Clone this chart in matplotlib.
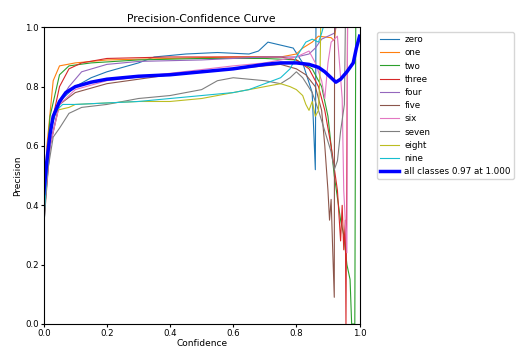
#!/usr/bin/env python3
import numpy as np
from matplotlib import pyplot as plt

################################################################################
# per-class precision-confidence curves

names = ['zero', 'one', 'two', 'three', 'four',
		'five', 'six', 'seven', 'eight', 'nine']
colors = ['#1f77b4', '#ff7f0e', '#2ca02c', '#d62728', '#9467bd',
		'#8c564b', '#e377c2', '#7f7f7f', '#bcbd22', '#17becf']

zero_x = [0, 0.01, 0.03, 0.06, 0.1, 0.15, 0.2, 0.3, 0.35, 0.45, 0.55, 0.65,
		0.68, 0.71, 0.75, 0.79, 0.82, 0.85, 0.86, 0.862, 1.0]
zero_y = [0.30, 0.55, 0.70, 0.76, 0.80, 0.83, 0.85, 0.88, 0.90, 0.91, 0.915,
		0.91, 0.92, 0.95, 0.94, 0.93, 0.88, 0.78, 0.52, 1.0, 1.0]

one_x = [0, 0.01, 0.03, 0.05, 0.1, 0.2, 0.4, 0.6, 0.75, 0.8, 0.82, 0.85,
		0.87, 0.91, 0.92, 0.925, 1.0]
one_y = [0.35, 0.60, 0.82, 0.87, 0.88, 0.89, 0.895, 0.90, 0.90, 0.91, 0.93,
		0.95, 0.97, 0.965, 0.955, 1.0, 1.0]

two_x = [0, 0.02, 0.05, 0.08, 0.15, 0.3, 0.5, 0.7, 0.8, 0.85, 0.88, 0.9,
		0.92, 0.94, 0.95, 0.96, 0.97, 0.975, 0.985, 0.988, 1.0]
two_y = [0.40, 0.70, 0.84, 0.87, 0.88, 0.89, 0.895, 0.895, 0.89, 0.86, 0.80,
		0.70, 0.50, 0.35, 0.30, 0.20, 0.15, 0.0, 0.0, 1.0, 1.0]

three_x = [0, 0.02, 0.05, 0.08, 0.12, 0.2, 0.4, 0.6, 0.75, 0.8, 0.84, 0.87,
		0.89, 0.91, 0.93, 0.94, 0.945, 0.95, 0.955, 0.957, 0.962, 1.0]
three_y = [0.35, 0.65, 0.80, 0.86, 0.88, 0.895, 0.90, 0.90, 0.90, 0.89, 0.86,
		0.80, 0.72, 0.60, 0.45, 0.28, 0.40, 0.25, 0.35, 0.0, 1.0, 1.0]

four_x = [0, 0.02, 0.05, 0.08, 0.12, 0.2, 0.3, 0.5, 0.7, 0.8, 0.84, 0.86,
		0.88, 0.9, 0.92, 0.925, 1.0]
four_y = [0.35, 0.60, 0.75, 0.80, 0.85, 0.875, 0.885, 0.89, 0.90, 0.90, 0.91,
		0.93, 0.96, 0.97, 0.98, 1.0, 1.0]

five_x = [0, 0.02, 0.05, 0.1, 0.2, 0.4, 0.6, 0.7, 0.75, 0.8, 0.83, 0.86,
		0.88, 0.89, 0.9, 0.905, 0.91, 0.915, 0.92, 0.921, 1.0]
five_y = [0.33, 0.60, 0.74, 0.78, 0.81, 0.84, 0.86, 0.87, 0.875, 0.86, 0.84,
		0.80, 0.72, 0.60, 0.45, 0.35, 0.42, 0.25, 0.09, 1.0, 1.0]

six_x = [0, 0.02, 0.05, 0.1, 0.2, 0.4, 0.6, 0.7, 0.75, 0.8, 0.84, 0.86,
		0.88, 0.89, 0.9, 0.91, 0.93, 0.945, 0.95, 0.96, 0.962, 1.0]
six_y = [0.36, 0.60, 0.74, 0.79, 0.82, 0.845, 0.87, 0.88, 0.89, 0.90, 0.92,
		0.88, 0.82, 0.76, 0.88, 0.95, 0.97, 0.76, 0.45, 0.24, 1.0, 1.0]

seven_x = [0, 0.01, 0.03, 0.05, 0.08, 0.12, 0.2, 0.3, 0.4, 0.5, 0.55, 0.6,
		0.7, 0.75, 0.78, 0.8, 0.82, 0.85, 0.87, 0.89, 0.91, 0.92, 0.93,
		0.94, 0.952, 0.955, 1.0]
seven_y = [0.32, 0.50, 0.63, 0.66, 0.71, 0.73, 0.74, 0.76, 0.77, 0.79, 0.82,
		0.83, 0.82, 0.81, 0.83, 0.85, 0.83, 0.78, 0.72, 0.65, 0.58, 0.52,
		0.55, 0.65, 0.74, 1.0, 1.0]

eight_x = [0, 0.02, 0.04, 0.08, 0.1, 0.2, 0.3, 0.4, 0.5, 0.6, 0.65, 0.7,
		0.75, 0.78, 0.8, 0.82, 0.83, 0.84, 0.85, 0.86, 0.87, 0.875, 0.877, 1.0]
eight_y = [0.38, 0.65, 0.72, 0.73, 0.74, 0.745, 0.75, 0.75, 0.76, 0.78, 0.79,
		0.80, 0.81, 0.80, 0.79, 0.77, 0.74, 0.72, 0.75, 0.70, 0.72, 0.85,
		1.0, 1.0]

nine_x = [0, 0.02, 0.04, 0.06, 0.1, 0.2, 0.3, 0.4, 0.5, 0.6, 0.65, 0.7,
		0.75, 0.78, 0.8, 0.83, 0.85, 0.87, 0.88, 0.885, 1.0]
nine_y = [0.35, 0.65, 0.72, 0.74, 0.74, 0.745, 0.75, 0.76, 0.77, 0.78, 0.79,
		0.81, 0.83, 0.86, 0.90, 0.95, 0.96, 0.95, 0.98, 1.0, 1.0]

# mean over all classes
all_x = [0, 0.01, 0.02, 0.03, 0.05, 0.07, 0.1, 0.15, 0.2, 0.3, 0.4, 0.5,
		0.6, 0.7, 0.75, 0.8, 0.84, 0.87, 0.89, 0.91, 0.925, 0.94, 0.96,
		0.98, 0.99, 1.0]
all_y = [0.44, 0.55, 0.64, 0.70, 0.75, 0.78, 0.80, 0.815, 0.825, 0.835, 0.84,
		0.85, 0.86, 0.875, 0.88, 0.88, 0.875, 0.865, 0.85, 0.83, 0.815, 0.825,
		0.85, 0.88, 0.93, 0.97]

################################################################################

if __name__ == '__main__':
	curves = [(zero_x, zero_y), (one_x, one_y), (two_x, two_y),
				(three_x, three_y), (four_x, four_y), (five_x, five_y),
				(six_x, six_y), (seven_x, seven_y), (eight_x, eight_y),
				(nine_x, nine_y)]
	plt.rcParams.update({'font.size': 6.5})
	fig = plt.figure(figsize=(5.18, 3.5), dpi=100)
	ax = fig.add_axes([0.0844, 0.0743, 0.6097, 0.8477])
	for index, (cx, cy) in enumerate(curves):
		ax.plot(cx, cy, linewidth = 0.8, color = colors[index],
					label = names[index])
	ax.plot(all_x, all_y, linewidth = 2.5, color = 'blue',
				label = 'all classes 0.97 at 1.000')
	ax.set_xlim(0, 1)
	ax.set_ylim(0, 1)
	ax.set_xlabel('Confidence', fontsize = 6.5, labelpad = 1)
	ax.set_ylabel('Precision', fontsize = 6.5, labelpad = 2)
	ax.set_title('Precision-Confidence Curve', fontsize = 7.75, pad = 4)
	ax.tick_params(labelsize = 6.2, pad = 1.5, length = 2)
	ax.legend(bbox_to_anchor = (1.055, 0.984), loc = 'upper left',
				fontsize = 6.3, handlelength = 2.2, handletextpad = 0.6,
				labelspacing = 0.48, borderaxespad = 0, borderpad = 0.35)
	plt.savefig('out.png', dpi = 100)

################################################################################
# EOF
